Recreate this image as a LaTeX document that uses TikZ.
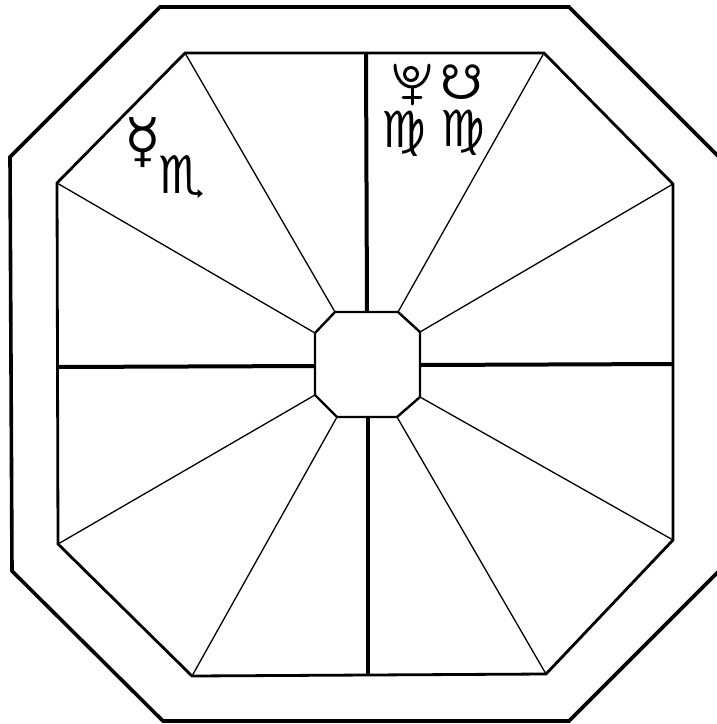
\documentclass[tikz,border=0pt]{standalone}
\usepackage{fontspec}
\newfontfamily\symfont{DejaVu Sans}
\tikzset{
  outerline/.style={line width=3.6pt, line join=miter},
  innerline/.style={line width=2.8pt, line join=miter},
  hubline/.style={line width=2.4pt, line join=miter},
  crossline/.style={line width=4pt},
  rayline/.style={line width=1.3pt},
  glyph/.style={inner sep=0pt, font=\symfont\fontsize{#1}{#1}\selectfont},
  glyph/.default=60,
  glyphline/.style={line width=3pt, line cap=round},
}
\begin{document}
\begin{tikzpicture}[x=1pt, y=-1pt]
\useasboundingbox (0,0) rectangle (716,724);
\fill[white] (0,0) rectangle (716,724);
% outer octagon
\draw[outerline] (160,7) -- (569,7) -- (719,157) -- (719,571) -- (569,721) -- (163,721) -- (12,571) -- (10,157) -- cycle;
% inner octagon vertices
\coordinate (i1) at (185,53);
\coordinate (i2) at (544,53);
\coordinate (i3) at (673,184);
\coordinate (i4) at (673,540);
\coordinate (i5) at (546,674);
\coordinate (i6) at (192,676);
\coordinate (i7) at (58,544);
\coordinate (i8) at (57,183);
% hub vertices
\coordinate (h1) at (335,312);
\coordinate (h2) at (398,312);
\coordinate (h3) at (420,332);
\coordinate (h4) at (420,397);
\coordinate (h5) at (397,417);
\coordinate (h6) at (337,417);
\coordinate (h7) at (315,395);
\coordinate (h8) at (315,333);
% rays
\foreach \k in {1,...,8} \draw[rayline] (i\k) -- (h\k);
% cross
\draw[crossline] (366,53) -- (367,312);
\draw[crossline] (368,417) -- (368,675);
\draw[crossline] (58,367) -- (315,366);
\draw[crossline] (420,365) -- (673,364);
% octagons
\draw[innerline] (i1) -- (i2) -- (i3) -- (i4) -- (i5) -- (i6) -- (i7) -- (i8) -- cycle;
\draw[hubline, fill=white] (h1) -- (h2) -- (h3) -- (h4) -- (h5) -- (h6) -- (h7) -- (h8) -- cycle;
% symbols
\node[glyph=60] (mercury) at (143,143) {☿};
\node[glyph=52] (scorpio) at (182,177) {♏};
% Pluto (no font has this form): crescent, circle, cross
\coordinate (plc) at (412,65);
\draw[glyphline] ([xshift=-17pt]plc) arc[start angle=180, end angle=360, x radius=17pt, y radius=22pt];
\draw[glyphline] (411,74) circle[radius=6.5pt];
\draw[glyphline] (412,87) -- (412,104);
\draw[glyphline] (403,97) -- (421,97);
\node[glyph=48] (snode) at (462,82) {☋};
\node[glyph=50] (virgoa) at (404,134) {♍};
\node[glyph=50] (virgob) at (463,133) {♍};
\end{tikzpicture}
\end{document}
